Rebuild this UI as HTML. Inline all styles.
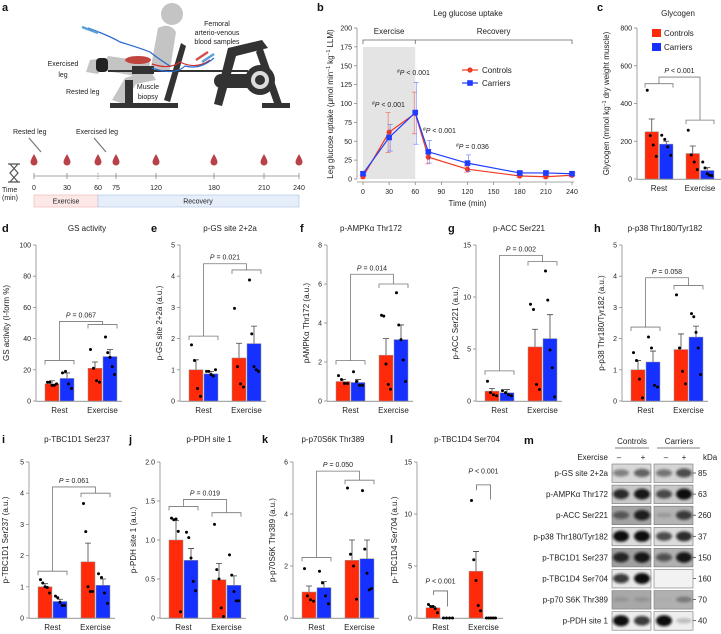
<!DOCTYPE html>
<html><head><meta charset="utf-8">
<style>
html,body{margin:0;padding:0;background:#fff;}
svg{display:block;font-family:"Liberation Sans",sans-serif;}
.t{font-size:7px;fill:#222;}
.tt{font-size:8px;fill:#222;}
.lt{font-size:11px;font-weight:bold;fill:#111;}
</style></head>
<body>
<svg id="fig" width="721" height="634" viewBox="0 0 721 634" xmlns="http://www.w3.org/2000/svg">
<defs><filter id="bl" x="-50%" y="-50%" width="200%" height="200%"><feGaussianBlur stdDeviation="1.3"/></filter></defs>
<!-- panel a -->
<g>
<text class="lt" x="2" y="11">a</text>
<g>
<circle cx="172" cy="14" r="11" fill="#c4c4c4"/>
<path d="M158 28 Q170 22 176 32 L170 70 L150 72 Z" fill="#c4c4c4"/>
<path d="M150 62 L108 56 L100 70 L148 78 Z" fill="#c4c4c4"/>
<path d="M150 70 L125 78 L112 100 L124 104 L136 84 L156 80 Z" fill="#c4c4c4"/>
<path d="M106 58 L90 60 L86 72 L98 74 Z" fill="#c4c4c4"/>
<rect x="96" y="58" width="12" height="14" rx="4" fill="#222"/>
<ellipse cx="138" cy="60" rx="13" ry="4" fill="#c0453e"/>
<path d="M181 43 L186 46 L170 102 L164 100 Z" fill="#333"/>
<rect x="110" y="103" width="68" height="5" fill="#333"/>
<rect x="262" y="103" width="28" height="5" fill="#333"/>
<rect x="125" y="80" width="8" height="25" fill="#333"/>
<path d="M228 48 L262 40 L268 48 L236 56 L222 106 L214 104 Z" fill="#333"/>
<path d="M262 46 L282 104 L275 106 L256 52 Z" fill="#333"/>
<rect x="108" y="70" width="140" height="2" fill="#333"/>
<rect x="214" y="74" width="50" height="14" rx="7" fill="#333"/>
<circle cx="260" cy="80" r="15" fill="#333"/><circle cx="260" cy="80" r="9" fill="#ddd"/><circle cx="260" cy="80" r="5" fill="#333"/>
<rect x="132" y="66" width="22" height="8" fill="#333"/>
<path d="M88 28 Q110 36 120 42 Q140 48 150 52 Q160 60 170 66" stroke="#2a6ad0" stroke-width="1.2" fill="none"/>
<path d="M152 64 Q170 70 180 62 Q196 70 210 60" stroke="#d03030" stroke-width="1.2" fill="none"/>
<path d="M152 68 Q175 76 185 66 Q200 70 214 58" stroke="#2a6ad0" stroke-width="1.2" fill="none"/>
<line x1="82" y1="27" x2="98" y2="33" stroke="#5aa0d8" stroke-width="2.5"/>
<line x1="196" y1="60" x2="208" y2="52" stroke="#d05050" stroke-width="2.5"/>
<line x1="202" y1="62" x2="214" y2="54" stroke="#5aa0d8" stroke-width="2.5"/>
</g>
<text class="t" x="217" y="26" text-anchor="middle">Femoral</text>
<text class="t" x="217" y="35" text-anchor="middle">arterio-venous</text>
<text class="t" x="217" y="44" text-anchor="middle">blood samples</text>
<text class="t" x="63" y="66" text-anchor="middle">Exercised</text>
<text class="t" x="63" y="77" text-anchor="middle">leg</text>
<text class="t" x="66" y="94">Rested leg</text>
<text class="t" x="148" y="89" text-anchor="middle">Muscle</text>
<text class="t" x="148" y="99" text-anchor="middle">biopsy</text>
<text class="t" x="13" y="134">Rested leg</text>
<text class="t" x="76" y="134">Exercised leg</text>
<line x1="29" y1="138" x2="41" y2="152" stroke="#777" stroke-width="1.2"/>
<line x1="94" y1="138" x2="106" y2="152" stroke="#777" stroke-width="1.2"/>
<g id="timeline"></g>
<path d="M8 164 H20 M8 182 H20 M10 164 L18 173 L10 182 M18 164 L10 173 L18 182" stroke="#555" stroke-width="1.2" fill="none"/>
<text class="t" x="2" y="192">Time</text>
<text class="t" x="2" y="200">(min)</text>
<rect x="34" y="195" width="64" height="12" fill="#fde8e8" stroke="#f0b0b0" stroke-width="0.6"/>
<rect x="98" y="195" width="201" height="12" fill="#e6eefa" stroke="#a8c0e8" stroke-width="0.6"/>
<text class="t" x="66" y="203.5" text-anchor="middle">Exercise</text>
<text class="t" x="198" y="203.5" text-anchor="middle">Recovery</text>
</g>
<!-- panel b -->
<g id="pb">
<text class="lt" x="317" y="11">b</text>
<text class="tt" x="468" y="16" text-anchor="middle">Leg glucose uptake</text>
</g>
<!-- panel c -->
<g id="pc">
<text class="lt" x="597" y="11">c</text>
<text class="tt" x="678" y="16" text-anchor="middle">Glycogen</text>
<rect x="652" y="29" width="9" height="8" fill="#ff2a0a"/>
<text class="tt" x="664" y="36">Controls</text>
<rect x="652" y="43" width="9" height="8" fill="#1530ff"/>
<text class="tt" x="664" y="50">Carriers</text>
</g>
<g id="pm">
<text class="lt" x="524" y="444">m</text>
<text class="tt" x="632" y="444" text-anchor="middle">Controls</text>
<text class="tt" x="679" y="444" text-anchor="middle">Carriers</text>
<line x1="615" y1="448" x2="649" y2="448" stroke="#555" stroke-width="0.7"/>
<line x1="657" y1="448" x2="700" y2="448" stroke="#555" stroke-width="0.7"/>
<text class="tt" x="608" y="460" text-anchor="end">Exercise</text>
<text class="tt" x="619" y="460" text-anchor="middle">–</text>
<text class="tt" x="643" y="460" text-anchor="middle">+</text>
<text class="tt" x="666" y="460" text-anchor="middle">–</text>
<text class="tt" x="684" y="460" text-anchor="middle">+</text>
<text class="tt" x="703" y="460">kDa</text>
</g>
</svg>
<script>
const NS='http://www.w3.org/2000/svg';
const svg=document.getElementById('fig');
function mk(tag,attrs,parent){const e=document.createElementNS(NS,tag);for(const k in attrs)e.setAttribute(k,attrs[k]);(parent||svg).appendChild(e);return e;}
const RED='#ff2a0a',BLUE='#1530ff',AX='#8a8a8a';

// ---------- timeline (panel a) ----------
const tlTimes=['0','30','60','75','120','180','210','240'];
const tlX=[34,67,98,116,156,214,264,299];
(function(){
 const g=document.getElementById('timeline');
 mk('line',{x1:34,y1:176,x2:299,y2:176,stroke:'#888','stroke-width':0.8},g);
 tlTimes.forEach((t,i)=>{
  const x=tlX[i];
  mk('line',{x1:x,y1:173,x2:x,y2:179,stroke:'#888','stroke-width':0.8,'stroke-dasharray':i==2?'1.5,1':'none'},g);
  const d=mk('path',{d:`M${x} 154 Q${x+3.5} 160 ${x+3.5} 162 A3.5 3.5 0 1 1 ${x-3.5} 162 Q${x-3.5} 160 ${x} 154Z`,fill:'#b8424a'},g);
  
  
  const tx=mk('text',{x:x,y:190,class:'t','text-anchor':'middle'},g);tx.textContent=t;
  
  
 });
})();

// ---------- panel b data ----------
const bTimes=[0,30,60,75,120,180,210,240];
const bControls=[3,62,87,29,13,4,3,5];
const bControlsHi=[5,88,115,38,17,6,5,7];
const bControlsLo=[1,35,60,20,9,2,1,3];
const bCarriers=[7,55,88,36,21,8,8,7];
const bCarriersHi=[9,72,128,51,32,10,10,8];
const bCarriersLo=[5,37,46,21,10,5,5,5];
const bYTicks=[0,25,50,75,100,125,150,175,200];
const bXTicks=[0,30,60,90,120,150,180,210,240];
(function(){
 const g=document.getElementById('pb');
 const X=v=>363+v*(572-363)/240, Y=v=>179-v*(179-28)/200;
 const sh=mk('rect',{x:X(0),y:47,width:X(60)-X(0),height:179-47,fill:'#e4e4e4'},g);
 
 
 mk('line',{x1:357,y1:Y(200),x2:357,y2:Y(0),stroke:AX,'stroke-width':0.8},g);
 mk('line',{x1:357,y1:Y(0)+3,x2:X(240)+2,y2:Y(0)+3,stroke:AX,'stroke-width':0.8},g);
 bYTicks.forEach(v=>{mk('line',{x1:354,y1:Y(v),x2:357,y2:Y(v),stroke:AX,'stroke-width':0.8},g);
  const t=mk('text',{x:352,y:Y(v)+2.5,class:'t','text-anchor':'end'},g);t.textContent=v;
  
  });
 bXTicks.forEach(v=>{mk('line',{x1:X(v),y1:Y(0)+3,x2:X(v),y2:Y(0)+6,stroke:AX,'stroke-width':0.8},g);
  const t=mk('text',{x:X(v),y:194,class:'t','text-anchor':'middle'},g);t.textContent=v;
  
  });
 const xt=mk('text',{x:X(120),y:206,class:'tt','text-anchor':'middle'},g);xt.textContent='Time (min)';
 
 
 const yt=mk('text',{x:0,y:0,class:'tt','text-anchor':'middle',transform:`translate(333,104) rotate(-90)`},g);
 yt.innerHTML='Leg glucose uptake (μmol min<tspan dy="-3" font-size="5">−1</tspan><tspan dy="3"> kg</tspan><tspan dy="-3" font-size="5">−1</tspan><tspan dy="3"> LLM)</tspan>';
 
 
 // phase brackets
 mk('path',{d:`M${X(0)} 44 V40 H${X(60)} V44 M${X(60)} 40 H${X(240)} V44`,stroke:'#666','stroke-width':0.8,fill:'none'},g);
 const e1=mk('text',{x:X(30),y:34,class:'tt','text-anchor':'middle'},g);e1.textContent='Exercise';
 
 
 const e2=mk('text',{x:X(150),y:34,class:'tt','text-anchor':'middle'},g);e2.textContent='Recovery';
 
 
 function series(vals,hi,lo,col,sq,name){
  bTimes.forEach((t,i)=>{const x=X(t)+(sq?1:-1);
   mk('path',{d:`M${x} ${Y(hi[i])} V${Y(lo[i])} M${x-2.5} ${Y(hi[i])} H${x+2.5} M${x-2.5} ${Y(lo[i])} H${x+2.5}`,stroke:col,'stroke-opacity':0.55,'stroke-width':0.8,fill:'none'},g);});
  const p=mk('polyline',{points:bTimes.map((t,i)=>X(t)+','+Y(vals[i])).join(' '),fill:'none',stroke:col,'stroke-width':1.2},g);
  
  
  bTimes.forEach((t,i)=>{let m;
   if(sq)m=mk('rect',{x:X(t)-2.8,y:Y(vals[i])-2.8,width:5.6,height:5.6,fill:col},g);
   else m=mk('circle',{cx:X(t),cy:Y(vals[i]),r:2.6,fill:col},g);
   
   });
 }
 series(bControls,bControlsHi,bControlsLo,'#f03a22',false,'controls');
 series(bCarriers,bCarriersHi,bCarriersLo,'#1f3cff',true,'carriers');
 // legend
 mk('line',{x1:462,y1:70,x2:478,y2:70,stroke:'#f03a22','stroke-width':1.2},g);mk('circle',{cx:470,cy:70,r:2.6,fill:'#f03a22'},g);
 mk('line',{x1:462,y1:83,x2:478,y2:83,stroke:'#1f3cff','stroke-width':1.2},g);mk('rect',{x:467.2,y:80.2,width:5.6,height:5.6,fill:'#1f3cff'},g);
 const l1=mk('text',{x:482,y:73,class:'tt'},g);l1.textContent='Controls';
 
 
 const l2=mk('text',{x:482,y:86,class:'tt'},g);l2.textContent='Carriers';
 
 
 [[372,107,'< 0.001'],[397,75,'< 0.001'],[423,133,'< 0.001'],[456,149,'= 0.036']].forEach(a=>{
  const t=mk('text',{x:a[0],y:a[1],class:'t'},g);
  t.innerHTML='<tspan font-size="5" dy="-2">#</tspan><tspan dy="2" font-style="italic">P</tspan> '+a[2];
  
  });
})();

// ---------- bar panels ----------
function barPanel(cfg,cats,ctrl,ctrlErr,carr,carrErr,ctrlDots,carrDots,ticks){
 const g=mk('g',{});
 
 
 const ax=cfg.ax,Y=v=>cfg.zero-(v/cfg.max)*(cfg.zero-cfg.top);
 const gap=cfg.gap||43,bw=cfg.bw||14;
 if(cfg.letter){const t=mk('text',{x:cfg.lx,y:cfg.ty+1,class:'lt'},g);t.textContent=cfg.letter;
  
  }
 if(cfg.title){const t=mk('text',{x:cfg.tx,y:cfg.ty,class:'tt','text-anchor':'middle'},g);t.textContent=cfg.title;
  
  }
 mk('line',{x1:ax,y1:cfg.top,x2:ax,y2:cfg.zero,stroke:AX,'stroke-width':0.8},g);
 mk('line',{x1:ax,y1:cfg.zero+0.4,x2:ax+86,y2:cfg.zero+0.4,stroke:'#aaa','stroke-width':1.2},g);
 ticks.forEach(v=>{mk('line',{x1:ax-3,y1:Y(v),x2:ax,y2:Y(v),stroke:AX,'stroke-width':0.8},g);
  const t=mk('text',{x:ax-5,y:Y(v)+2.5,class:'t','text-anchor':'end'},g);t.textContent=cfg.fmt?cfg.fmt(v):v;
  
  });
 const yt=mk('text',{x:0,y:0,class:'tt','text-anchor':'middle',transform:`translate(${ax-cfg.yl},${(cfg.top+cfg.zero)/2}) rotate(-90)`},g);
 yt.innerHTML=cfg.ylabel;
 
 
 cats.forEach((c,i)=>{
  const x0=ax+(cfg.off||9)+i*gap;
  const t=mk('text',{x:x0+bw+0.5,y:cfg.zero+12,class:'tt','text-anchor':'middle'},g);t.textContent=c;
  
  
  [[ctrl,ctrlErr,ctrlDots,RED,x0,'controls'],[carr,carrErr,carrDots,BLUE,x0+bw+1,'carriers']].forEach(s=>{
   const v=s[0][i],e=s[1][i],x=s[4];
   if(e>v){mk('path',{d:`M${x+bw/2} ${Y(v)} V${Y(e)} M${x+bw/2-3} ${Y(e)} H${x+bw/2+3}`,stroke:'#444','stroke-width':0.8,fill:'none'},g);}
   const r=mk('rect',{x:x,y:Y(v),width:bw,height:Math.max(0,cfg.zero-Y(v)),fill:s[3],stroke:'#999','stroke-width':0.5},g);
   
   
   const ds=s[2][i],n=ds.length;
   ds.forEach((d,k)=>{const dx=n>1?-4.5+k*9/(n-1):0;
    const p=mk('circle',{cx:x+bw/2+dx,cy:Y(d),r:1.5,fill:'#000'},g);
    
    });
  });
 });
 const b=cfg.br;
 if(b){
  const r0=ax+(cfg.off||9),r1=r0+2*bw+1,e0=r0+gap,e1=e0+2*bw+1,rc=(r0+r1)/2,ec=(e0+e1)/2;
  if(b.type==='within'){
   [[rc-7,rc+7,b.rest,b.restL,b.restR,b.restP],[ec-7,ec+7,b.ex,b.exL,b.exR,b.exP]].forEach(q=>{
    mk('path',{d:`M${q[0]} ${Y(q[3])} V${Y(q[2])} H${q[1]} V${Y(q[4])}`,stroke:'#666','stroke-width':0.8,fill:'none'},g);
    const t=mk('text',{x:(q[0]+q[1])/2,y:Y(q[5]),class:'t','text-anchor':'middle'},g);
    t.innerHTML='<tspan font-style="italic">P</tspan> &lt; 0.001';
    
    });
  } else {
   mk('path',{d:`M${r0} ${Y(b.rest)+4} V${Y(b.rest)} H${r1} V${Y(b.rest)+4} M${rc} ${Y(b.rest)} V${Y(b.top)} H${ec} V${Y(b.ex)} M${e0} ${Y(b.ex)+4} V${Y(b.ex)} H${e1} V${Y(b.ex)+4}`,stroke:'#777','stroke-width':0.8,fill:'none'},g);
   const t=mk('text',{x:(rc+ec)/2,y:Y(b.top)-4,class:'t','text-anchor':'middle'},g);
   t.innerHTML='<tspan font-style="italic">P</tspan> '+b.p;
   
   
  }
 }
}
const cats=['Rest','Exercise'];
const f1=v=>v.toFixed(1);

// c glycogen
const cTicks=[0,200,400,600,800];
const cCtrl=[250,135],cCtrlErr=[318,175],cCarr=[185,45],cCarrErr=[200,60];
const cCtrlDots=[[470,230,180,120],[258,128,90,50]],cCarrDots=[[232,210,170,125],[90,58,28,20,18]];
barPanel({name:'panel-c-chart',ax:637,top:28,zero:179,max:800,off:8,gap:41,bw:13.5,yl:28,
 ylabel:'Glycogen (mmol kg<tspan dy="-3" font-size="5">−1</tspan><tspan dy="3"> dry weight muscle)</tspan>',
 br:{rest:505,ex:312,top:540,p:'&lt; 0.001'}},cats,cCtrl,cCtrlErr,cCarr,cCarrErr,cCtrlDots,cCarrDots,cTicks);

// row 2
const R2={top:245,zero:401,ty:231};
const dTicks=[0,20,40,60,80,100];
const dCtrl=[11,21],dCtrlErr=[13,25],dCarr=[14.5,28.5],dCarrErr=[18,33];
const dCtrlDots=[[12,12,10,10,11],[33,21,13,12]],dCarrDots=[[18,19,11,8],[41,31,28,22,17]];
barPanel(Object.assign({name:'panel-d-gs-activity',letter:'d',lx:2,title:'GS activity',tx:87,ax:36,max:100,yl:27,ylabel:'GS activity (I-form %)',
 br:{rest:26,ex:49,top:51,p:'= 0.067'}},R2),cats,dCtrl,dCtrlErr,dCarr,dCarrErr,dCtrlDots,dCarrDots,dTicks);

const eTicks=[0,1,2,3,4,5];
const eCtrl=[1.0,1.38],eCtrlErr=[1.32,1.85],eCarr=[0.87,1.84],eCarrErr=[0.95,2.4];
const eCtrlDots=[[1.8,1.3,0.4,0.15],[2.97,1.1,0.55,0.45]],eCarrDots=[[0.95,0.95,0.85,0.8,1.0],[3.88,2.15,1.1,1.0,0.95]];
barPanel(Object.assign({name:'panel-e-p-gs',letter:'e',lx:151,title:'p-GS site 2+2a',tx:230,ax:180,max:5,yl:18,ylabel:'p-GS site 2+2a (a.u.)',
 br:{rest:2.08,ex:4.2,top:4.4,p:'= 0.021'}},R2),cats,eCtrl,eCtrlErr,eCarr,eCarrErr,eCtrlDots,eCarrDots,eTicks);

const fTicks=[0,2,4,6,8];
const fCtrl=[1.0,2.35],fCtrlErr=[1.1,3.2],fCarr=[0.95,3.15],fCarrErr=[1.1,3.9];
const fCtrlDots=[[1.3,1.1,0.9,0.9],[4.4,4.35,1.9,0.85,0.6]],fCarrDots=[[1.5,1.0,0.8,0.8],[5.55,3.9,3.15,2.1,1.0]];
barPanel(Object.assign({name:'panel-f-p-ampk',letter:'f',lx:300,title:'p-AMPKα Thr172',tx:371,ax:327,max:8,yl:18,ylabel:'pAMPKα Thr172 (a.u.)',
 br:{rest:2.07,ex:6.0,top:6.5,p:'= 0.014'}},R2),cats,fCtrl,fCtrlErr,fCarr,fCarrErr,fCtrlDots,fCarrDots,fTicks);

const gTicks=[0,5,10,15];
const gCtrl=[0.95,5.2],gCtrlErr=[1.2,6.9],gCarr=[0.8,6.0],gCarrErr=[1.1,8.3];
const gCtrlDots=[[1.9,0.8,0.6,0.5],[9.3,8.8,1.6,1.1]],gCarrDots=[[1.0,0.8,0.6,0.5],[12.5,9.7,4.9,3.2,0.4]];
barPanel(Object.assign({name:'panel-g-p-acc',letter:'g',lx:448,title:'p-ACC Ser221',tx:519,ax:476,max:15,yl:18,ylabel:'p-ACC Ser221 (a.u.)',
 br:{rest:2.9,ex:13.4,top:14.0,p:'= 0.002'}},R2),cats,gCtrl,gCtrlErr,gCarr,gCarrErr,gCtrlDots,gCarrDots,gTicks);

const hTicks=[0,1,2,3,4,5];
const hCtrl=[1.0,1.65],hCtrlErr=[1.3,2.15],hCarr=[1.25,2.05],hCarrErr=[1.6,2.4];
const hCtrlDots=[[1.55,1.3,0.7,0.1],[3.4,1.7,0.95,0.55]],hCarrDots=[[2.05,1.7,0.5,0.45],[2.8,2.7,2.2,1.7,0.85]];
barPanel(Object.assign({name:'panel-h-p-p38',letter:'h',lx:594,title:'p-p38 Thr180/Tyr182',tx:665,ax:622,max:5,yl:18,ylabel:'p-p38 Thr180/Tyr182 (a.u.)',
 br:{rest:2.37,ex:3.7,top:3.95,p:'= 0.058'}},R2),cats,hCtrl,hCtrlErr,hCarr,hCarrErr,hCtrlDots,hCarrDots,hTicks);

// row 3
const R3={top:462,zero:618,ty:442};
const iTicks=[0,1,2,3,4,5];
const iCtrl=[1.0,1.8],iCtrlErr=[1.1,2.4],iCarr=[0.53,1.05],iCarrErr=[0.6,1.25];
const iCtrlDots=[[1.23,1.12,1.0,0.98,0.8],[3.67,2.77,1.0,0.85,0.85]],iCarrDots=[[0.7,0.65,0.5,0.4,0.4],[1.42,1.3,0.8,0.47]];
barPanel(Object.assign({name:'panel-i-p-tbc1d1',letter:'i',lx:2,title:'p-TBC1D1 Ser237',tx:77,ax:29,max:5,yl:21,ylabel:'p-TBC1D1 Ser237 (a.u.)',
 br:{rest:1.5,ex:4.0,top:4.2,p:'= 0.061'}},R3),cats,iCtrl,iCtrlErr,iCarr,iCarrErr,iCtrlDots,iCarrDots,iTicks);

const jTicks=[0,0.5,1.0,1.5,2.0];
const jCtrl=[1.0,0.49],jCtrlErr=[1.25,0.7],jCarr=[0.74,0.42],jCarrErr=[0.89,0.54];
const jCtrlDots=[[1.28,1.26,1.27,1.11,0.08],[1.2,0.62,0.5,0.13,0.02]],jCarrDots=[[1.1,1.03,0.77,0.47,0.35],[0.81,0.55,0.34,0.22,0.22]];
barPanel(Object.assign({name:'panel-j-p-pdh',letter:'j',lx:129,title:'p-PDH site 1',tx:209,ax:160,max:2,yl:24,fmt:v=>v===0?'0':v.toFixed(1),ylabel:'p-PDH site 1 (a.u.)',
 br:{rest:1.43,ex:1.35,top:1.52,p:'= 0.019'}},R3),cats,jCtrl,jCtrlErr,jCarr,jCarrErr,jCtrlDots,jCarrDots,jTicks);

const kTicks=[0,2,4,6];
const kCtrl=[1.0,2.22],kCtrlErr=[1.23,3.0],kCarr=[1.17,2.28],kCarrErr=[1.4,3.0];
const kCtrlDots=[[1.9,0.85,0.7,0.65],[5.0,2.45,2.0,0.72]],kCarrDots=[[1.8,1.35,0.85,0.55],[4.9,2.65,1.72,1.08,1.13]];
barPanel(Object.assign({name:'panel-k-p-p70s6k',letter:'k',lx:262,title:'p-p70S6K Thr389',tx:333,ax:293,max:6,yl:18,ylabel:'p-p70S6K Thr389 (a.u.)',
 br:{rest:2.33,ex:5.3,top:5.65,p:'= 0.050'}},R3),cats,kCtrl,kCtrlErr,kCarr,kCarrErr,kCtrlDots,kCarrDots,kTicks);

const lTicks=[0,5,10,15];
const lCtrl=[0.98,4.5],lCtrlErr=[1.1,6.4],lCarr=[0,0],lCarrErr=[0,0];
const lCtrlDots=[[1.3,1.1,1.1,0.9,0.5],[11.3,5.6,3.6,1.2,0.7]],lCarrDots=[[0,0,0,0],[0,0,0,0,0]];
barPanel(Object.assign({name:'panel-l-p-tbc1d4',letter:'l',lx:390,title:'p-TBC1D4 Ser704',tx:467,ax:417,max:15,yl:20,ylabel:'p-TBC1D4 Ser704 (a.u.)',
 br:{type:'within',rest:2.6,restL:2.2,restR:1.1,restP:3.3,ex:12.8,exL:12.3,exR:11.4,exP:13.9}},R3),cats,lCtrl,lCtrlErr,lCarr,lCarrErr,lCtrlDots,lCarrDots,lTicks);

// ---------- panel m blots ----------
const blotLabels=['p-GS site 2+2a','p-AMPKα Thr172','p-ACC Ser221','p-p38 Thr180/Tyr182','p-TBC1D1 Ser237','p-TBC1D4 Ser704','p-p70 S6K Thr389','p-PDH site 1'];
const blotKDa=['85','63','260','37','150','160','70','40'];
const blotBg=[['#d8d8d8','#d4d4d4'],['#c8c8c8','#c8c8c8'],['#a4a4a4','#b4b4b4'],['#dcdcdc','#dcdcdc'],['#a0a0a0','#b0b0b0'],['#e8e8e8','#f2f2f2'],['#a8a8a8','#b0b0b0'],['#ececec','#eeeeee']];
const blotBands=[[0.45,0.6,0.5,0.7],[0.85,0.95,0.7,1],[0.55,0.9,0.15,0.75],[1,1,0.7,0.85],[0.85,0.95,0.6,0.95],[0.8,1,0,0],[0.12,0.12,0.03,0.3],[1,0.8,1,0.2]];
(function(){
 const g=document.getElementById('pm');
 const laneX=[621,642,664,684];
 blotLabels.forEach((lab,i)=>{
  const y=464+i*21.1;
  const t=mk('text',{x:608,y:y+12,class:'tt','text-anchor':'end'},g);t.textContent=lab;
  
  
  [[612,blotBg[i][0]],[654,blotBg[i][1]]].forEach(b=>{
   const r=mk('rect',{x:b[0],y:y,width:39,height:18.5,fill:b[1],stroke:'#777','stroke-width':0.6},g);
   
   });
  blotBands[i].forEach((a,k)=>{
   if(a<=0)return;
   const e=mk('ellipse',{cx:laneX[k],cy:y+9,rx:8,ry:2+a*3.5,fill:'#111','fill-opacity':Math.min(1,a),filter:'url(#bl)'},g);
   
   });
  mk('line',{x1:693,y1:y+9,x2:696,y2:y+9,stroke:'#333','stroke-width':0.7},g);
  const kd=mk('text',{x:698,y:y+12,class:'tt'},g);kd.textContent=blotKDa[i];
  
  
 });
})();
</script>
</body></html>
